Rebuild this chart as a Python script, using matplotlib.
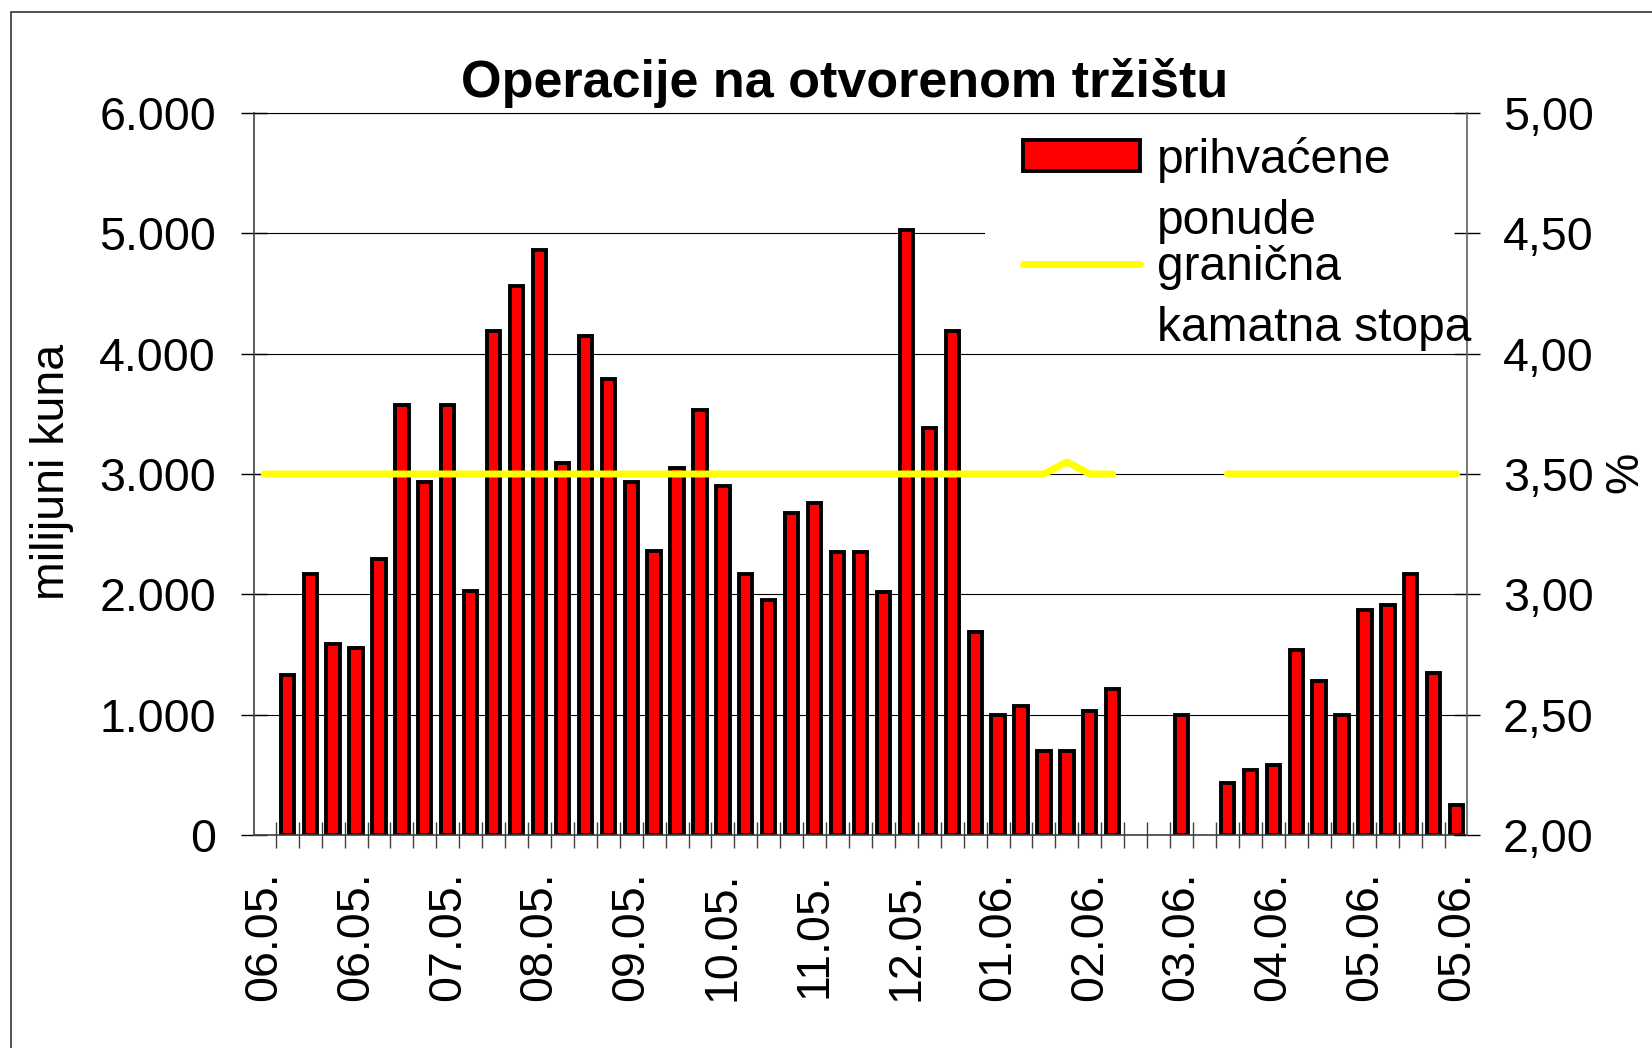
import numpy as np
import matplotlib.pyplot as plt
from matplotlib.patches import Rectangle

plt.rcParams['font.family'] = ['Liberation Sans', 'DejaVu Sans']

nan = np.nan

# prihvacene ponude, milijuni kuna (one value per auction, nan = no auction)
accepted = [nan, 1330, 2170, 1590, 1550, 2290, 3570, 2930, 3570, 2030,
            4190, 4560, 4860, 3090, 4150, 3790, 2930, 2360, 3050, 3530,
            2900, 2170, 1950, 2680, 2760, 2350, 2350, 2020, 5030, 3380,
            4190, 1690, 1000, 1070, 700, 700, 1030, 1210, nan, nan,
            1000, nan, 430, 540, 580, 1540, 1280, 1000, 1870, 1910,
            2170, 1350, 250]

# granicna kamatna stopa, %
rate = [3.50, 3.50, 3.50, 3.50, 3.50, 3.50, 3.50, 3.50, 3.50, 3.50,
        3.50, 3.50, 3.50, 3.50, 3.50, 3.50, 3.50, 3.50, 3.50, 3.50,
        3.50, 3.50, 3.50, 3.50, 3.50, 3.50, 3.50, 3.50, 3.50, 3.50,
        3.50, 3.50, 3.50, 3.50, 3.50, 3.55, 3.50, 3.50, nan, nan,
        nan, nan, 3.50, 3.50, 3.50, 3.50, 3.50, 3.50, 3.50, 3.50,
        3.50, 3.50, 3.50]

# every 4th auction is labelled
date_labels = ['06.05.', '06.05.', '07.05.', '08.05.', '09.05.', '10.05.', '11.05.',
               '12.05.', '01.06.', '02.06.', '03.06.', '04.06.', '05.06.', '05.06.']

left_ticks = [0, 1000, 2000, 3000, 4000, 5000, 6000]
right_ticks = [2.0, 2.5, 3.0, 3.5, 4.0, 4.5, 5.0]

W, H = 1652, 1048
FS = 33.5

n = len(accepted)
x = np.arange(n)
acc = np.array(accepted, dtype=float)
has_bar = ~np.isnan(acc)

fig = plt.figure(figsize=(W / 100, H / 100), dpi=100)
ax = fig.add_axes([254 / W, 1 - 835 / H, (1467 - 254) / W, (835 - 113) / H])

bars = ax.bar(x[has_bar], acc[has_bar], width=0.58, color='#FF0000',
              edgecolor='black', linewidth=2.8, zorder=2)

ax.set_xlim(-0.45, n - 0.55)
ax.set_ylim(0, 6000)
ax.set_yticks(left_ticks)
ax.set_yticklabels([f"{v:,.0f}".replace(',', '.') for v in left_ticks])
ax.set_xticks(x[::4])
ax.set_xticklabels(date_labels, rotation=90)
ax.set_xticks(np.arange(0.5, n - 1, 1), minor=True)

ax.tick_params(axis='x', which='major', length=0, pad=26.5, labelsize=FS)
ax.tick_params(axis='x', which='minor', direction='inout', length=18.7,
               width=1, color='#404040')
ax.tick_params(axis='y', direction='inout', length=18.7, width=1,
               pad=18, labelsize=FS)

ax.grid(axis='y', color='black', linewidth=0.8)
ax.set_axisbelow(True)
for side in ['left', 'bottom', 'top']:
    ax.spines[side].set_color('#404040')
    ax.spines[side].set_linewidth(1.2)
ax.spines['top'].set_color('black')
ax.spines['top'].set_linewidth(0.8)
ax.spines['right'].set_visible(False)

# white background behind the legend hides the gridline
ax.add_patch(Rectangle(((985 - 254) / (1467 - 254), 0.70), 1.0, 0.275,
                       transform=ax.transAxes, facecolor='white',
                       edgecolor='none', zorder=1))

ax2 = ax.twinx()
line, = ax2.plot(x, rate, color='#FFFF00', linewidth=5,
                 solid_capstyle='round', solid_joinstyle='round')
ax2.set_xlim(ax.get_xlim())
ax2.set_ylim(2, 5)
ax2.set_yticks(right_ticks)
ax2.set_yticklabels([f"{v:.2f}".replace('.', ',') for v in right_ticks])
ax2.tick_params(axis='y', direction='inout', length=18.7, width=1,
                pad=16.6, labelsize=FS)
for side in ['left', 'bottom', 'top']:
    ax2.spines[side].set_visible(False)
ax2.spines['right'].set_color('#606060')
ax2.spines['right'].set_linewidth(1.2)

leg = ax2.legend([bars, line], ['prihvaćene', 'granična'], loc='upper left',
                 bbox_to_anchor=(1022.7 / W, 1 - 136.7 / H),
                 bbox_transform=fig.transFigure, frameon=False,
                 borderpad=0, borderaxespad=0, handlelength=2.45,
                 handleheight=0.62, handletextpad=0.35, labelspacing=1.3,
                 fontsize=34.5)
for t, extra in zip(leg.get_texts(), ['ponude', 'kamatna stopa']):
    ax2.annotate(extra, xy=(0, 0), xycoords=t, xytext=(0, -61 * 0.72),
                 textcoords='offset points', fontsize=34.5,
                 ha='left', va='bottom', zorder=6)

fig.text(845 / W, 1 - 97 / H, 'Operacije na otvorenom tržištu',
         ha='center', va='baseline', fontsize=37.5, fontweight='bold')
fig.text(52 / W, 1 - 472 / H, 'milijuni kuna', rotation=90,
         ha='center', va='center', fontsize=FS)
fig.text(1625 / W, 1 - 472 / H, '%', rotation=90,
         ha='center', va='center', fontsize=FS)

# chart area border
fig.patches.append(Rectangle((11 / W, -0.05), 1.2, 1 - 12 / H + 0.05,
                             transform=fig.transFigure, fill=False,
                             edgecolor='#333333', linewidth=1.2))

fig.savefig('out.png', dpi=100)
